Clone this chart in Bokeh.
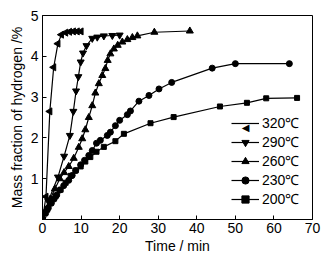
from bokeh.plotting import figure
from bokeh.models import Range1d, FixedTicker, Legend, LegendItem, ColumnDataSource, Label
from bokeh.embed import file_html
from bokeh.resources import INLINE
import math

FONT = "Liberation Sans"

t320 = [0, 0.9, 1.9, 2.9, 4.0, 4.9, 6.0, 7.0, 8.0, 9.0, 10.0]
v320 = [0, 0.56, 2.65, 3.73, 4.31, 4.53, 4.58, 4.6, 4.61, 4.61, 4.61]

t290 = [0, 1.5, 4.0, 5.6, 7.1, 8.0, 8.7, 9.3, 9.9, 10.5, 11.4, 12.9, 14.2, 15.9, 18.1, 20.0]
v290 = [0, 0.45, 1.04, 1.55, 2.06, 2.65, 3.15, 3.5, 3.86, 4.08, 4.26, 4.44, 4.47, 4.5, 4.51, 4.52]

t260 = [0, 1.0, 2.0, 3.2, 4.5, 5.6, 6.8, 8.1, 9.4, 10.3, 11.1, 12.0, 12.9, 13.7, 14.6,
        15.5, 16.3, 16.9, 17.6, 18.5, 19.5, 20.7, 22.0, 23.3, 24.6, 29.0, 38.2]
v260 = [0, 0.25, 0.5, 0.75, 1.0, 1.15, 1.3, 1.5, 1.77, 1.98, 2.2, 2.5, 2.79, 3.1, 3.33,
        3.53, 3.7, 3.9, 4.06, 4.18, 4.27, 4.35, 4.41, 4.46, 4.5, 4.59, 4.62]

t230 = [0, 0.8, 1.5, 2.3, 3.0, 3.7, 4.5, 5.5, 6.8, 7.7, 8.6, 9.9, 10.9, 12.0, 12.9, 14.0,
        15.0, 16.8, 17.6, 18.9, 20.0, 22.0, 22.8, 25.0, 27.6, 30.2, 33.5, 44.0, 50.0, 64.0]
v230 = [0, 0.15, 0.28, 0.4, 0.5, 0.6, 0.72, 0.83, 0.96, 1.08, 1.2, 1.34, 1.45, 1.57, 1.69, 1.87,
        1.94, 2.06, 2.14, 2.3, 2.43, 2.57, 2.66, 2.9, 3.04, 3.2, 3.36, 3.71, 3.82, 3.82]

t200 = [0, 1.2, 2.1, 3.4, 4.7, 6.0, 7.3, 8.6, 9.9, 11.1, 12.4, 14.0, 15.9, 18.9, 21.1,
        28.0, 34.0, 46.0, 53.0, 58.0, 66.0]
v200 = [0, 0.24, 0.4, 0.57, 0.73, 0.9, 1.07, 1.2, 1.3, 1.42, 1.53, 1.66, 1.78, 1.92, 2.1,
        2.36, 2.51, 2.77, 2.86, 2.97, 2.98]

labels = ["320\u2103", "290\u2103", "260\u2103", "230\u2103", "200\u2103"]
x_ticks = [0, 10, 20, 30, 40, 50, 60, 70]
y_ticks = [1, 2, 3, 4, 5]

p = figure(width=327, height=259, output_backend="svg", toolbar_location=None,
           x_range=Range1d(0, 70), y_range=Range1d(0, 5),
           min_border_left=42, min_border_right=15, min_border_top=15, min_border_bottom=40)
p.grid.visible = False
p.outline_line_color = "black"
p.outline_line_width = 1
p.outline_line_alpha = 1
p.background_fill_color = "white"
p.border_fill_color = "white"

for ax in (p.xaxis[0], p.yaxis[0]):
    ax.axis_line_color = "black"
    ax.major_tick_in = 4
    ax.major_tick_out = 0
    ax.minor_tick_in = 0
    ax.minor_tick_out = 0
    ax.major_tick_line_color = "black"
    ax.major_label_text_font = FONT
    ax.major_label_text_font_size = "14px"
    ax.major_label_text_color = "black"
    ax.axis_label_text_font = FONT
    ax.axis_label_text_font_size = "14px"
    ax.axis_label_text_font_style = "normal"
    ax.axis_label_text_color = "black"

p.xaxis.ticker = FixedTicker(ticks=x_ticks)
p.yaxis.ticker = FixedTicker(ticks=y_ticks)
p.xaxis.axis_label = "Time / min"
p.yaxis.axis_label = "Mass fraction of hydrogen /%"
p.xaxis.major_label_standoff = 3
p.yaxis.major_label_standoff = 4
p.xaxis.axis_label_standoff = 2
p.yaxis.axis_label_standoff = 3

series = [
    (t320, v320, "triangle", math.pi / 2, 7),
    (t290, v290, "inverted_triangle", 0.0, 7),
    (t260, v260, "triangle", 0.0, 7),
    (t230, v230, "circle", 0.0, 6),
    (t200, v200, "square", 0.0, 5),
]

items = []
for k, ((t, v, mk, ang, sz), lab) in enumerate(zip(series, labels)):
    src = ColumnDataSource(dict(x=t, y=v, a=[ang] * len(t)))
    l = p.line("x", "y", source=src, line_color="black", line_width=1.2)
    s = p.scatter("x", "y", source=src, marker=mk, angle="a", size=sz,
                  fill_color="black", line_color="black")
    # legend markers are drawn unrotated by Bokeh, so the rotated one is added as a label
    rends = [l] if ang != 0 else [l, s]
    items.append(LegendItem(label=lab, renderers=rends, index=0))

legend = Legend(items=items, location=(189, 11), padding=0, margin=0, spacing=0,
                glyph_width=28, glyph_height=18, label_height=18, label_standoff=3,
                label_text_font=FONT, label_text_font_size="14px", label_text_color="black",
                border_line_alpha=0, background_fill_alpha=0)
p.add_layout(legend, "center")
p.add_layout(Label(x=203, y=92, x_units="screen", y_units="screen", text="\u25c0",
                   text_font="DejaVu Sans", text_font_size="10px", text_color="black",
                   text_align="center", text_baseline="middle"))

open("out.html", "w").write(file_html(p, INLINE))
